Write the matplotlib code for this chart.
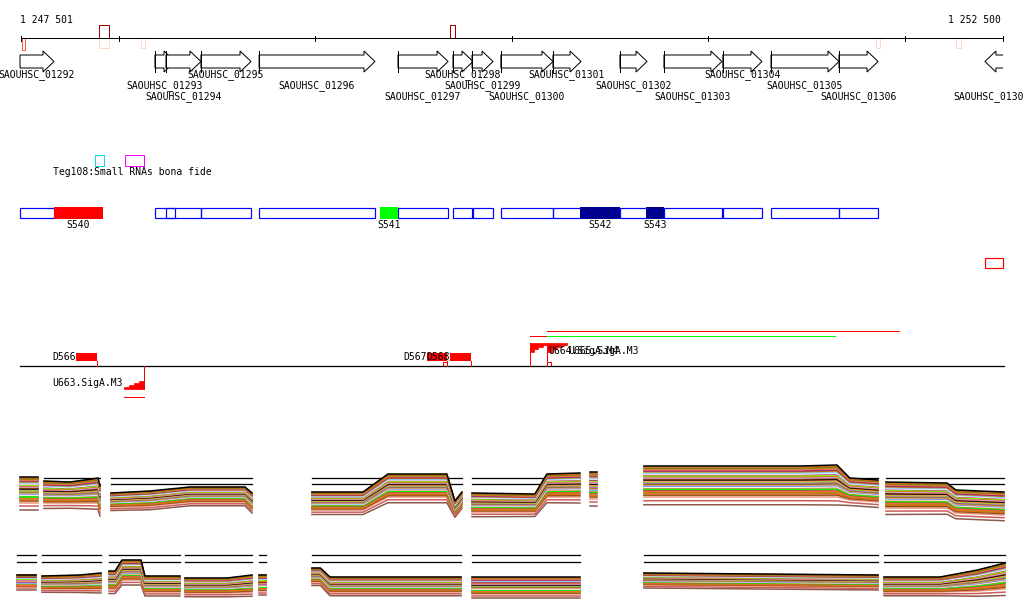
import numpy as np
import matplotlib.pyplot as plt
from matplotlib.patches import Rectangle, Polygon

# view: 1 247 501 .. 1 252 500, pixel scale of the browser picture
VIEW_START = 1247501
VIEW_END = 1252500
BP_PER_PX = (VIEW_END - VIEW_START) / 982.0
X_LEFT = VIEW_START - 21 * BP_PER_PX
X_RIGHT = X_LEFT + 1024 * BP_PER_PX
PX = 0.72  # one pixel line width in points

# ---------------------------------------------------------
# DATA
# ---------------------------------------------------------
tick_pos = [1247501, 1248000, 1249000, 1250000, 1251000, 1252000, 1252500]

gene_names = ['SAOUHSC_01292', 'SAOUHSC_01293', 'SAOUHSC_01294', 'SAOUHSC_01295',
              'SAOUHSC_01296', 'SAOUHSC_01297', 'SAOUHSC_01298', 'SAOUHSC_01299',
              'SAOUHSC_01300', 'SAOUHSC_01301', 'SAOUHSC_01302', 'SAOUHSC_01303',
              'SAOUHSC_01304', 'SAOUHSC_01305', 'SAOUHSC_01306', 'SAOUHSC_01307']
gene_start = [1247496, 1248183, 1248239, 1248417, 1248713, 1249420, 1249700, 1249797,
              1249944, 1250209, 1250550, 1250774, 1251074, 1251319, 1251665, 1252408]
gene_end = [1247669, 1248285, 1248417, 1248672, 1249303, 1249675, 1249802, 1249904,
            1250209, 1250352, 1250688, 1251069, 1251273, 1251665, 1251864, 1252560]
gene_strand = ['+'] * 15 + ['-']
label_row = [0, 1, 2, 0, 1, 2, 0, 1, 2, 0, 1, 2, 0, 1, 2, 2]

# sites on the ruler
site_start = [1247506, 1247898, 1247898, 1248112, 1249685, 1251854, 1252261]
site_end = [1247519, 1247947, 1247947, 1248132, 1249711, 1251874, 1252286]
site_color = ['#f06040', '#a00000', '#ffd8c8', '#ffd8c8', '#a00000', '#ffd8c8', '#ffd8c8']
site_above = [False, True, False, False, True, False, False]

# small RNA track
srna_start = [1247878, 1248030]
srna_end = [1247922, 1248127]
srna_color = ['#00e0e0', '#ff00ff']
srna_label = 'Teg108:Small RNAs bona fide'

# segments track
seg_names = ['S540', 'S541', 'S542', 'S543']
seg_start = [1247669, 1249328, 1250346, 1250682]
seg_end = [1247918, 1249420, 1250550, 1250774]
seg_color = ['#ff0000', '#00ff00', '#000090', '#000090']
extra_box = (1252408, 1252500)

# transcription signals
down_names = ['D566', 'D567', 'D568']
down_start = [1247781, 1249566, 1249685]
down_end = [1247886, 1249668, 1249790]
up_names = ['U663.SigA.M3', 'U664.SigA.M4', 'U665.SigA.M3']
up_pos = [1248127, 1250092, 1250178]
up_tip = [1248025, 1250178, 1250283]
up_strand = ['-', '+', '+']
term_markers = [(1249650, 1249670), (1250178, 1250199)]
rna_lines = [(1250092, 1250178, 336, '#ff0000'), (1250178, 1251645, 336, '#00ff00'),
             (1250178, 1251970, 331, '#ff0000'), (1248025, 1248127, 397, '#ff0000')]

# expression profiles: knots, top / bottom of the band
row1_blocks = [
    ([1247496, 1247588], [477, 477], [503, 503]),
    ([1247618, 1247750, 1247862, 1247893, 1247903], [481, 482, 479, 478, 486], [503, 503, 503, 503, 510]),
    ([1247959, 1248158, 1248361, 1248641, 1248677], [493, 491, 487, 487, 493], [507, 506, 502, 502, 509]),
    ([1248982, 1249242, 1249369, 1249669, 1249710, 1249746], [492, 492, 474, 474, 501, 492], [510, 510, 497, 497, 514, 505]),
    ([1249797, 1250117, 1250178, 1250346], [493, 494, 474, 473], [512, 512, 497, 497]),
    ([1250397, 1250433], [472, 472], [499, 499]),
    ([1250672, 1251467, 1251655, 1251720, 1251864], [466, 466, 465, 478, 480], [497, 497, 497, 500, 502]),
    ([1251904, 1252215, 1252260, 1252505], [482, 483, 490, 492], [508, 508, 513, 515]),
]
row2_blocks = [
    ([1247481, 1247577], [575, 575], [587, 587]),
    ([1247608, 1247801, 1247908], [576, 575, 573], [589, 589, 589]),
    ([1247949, 1247980, 1248015, 1248112, 1248132, 1248310], [571, 571, 560, 560, 576, 576], [589, 589, 580, 580, 592, 592]),
    ([1248336, 1248550, 1248677], [578, 578, 575], [593, 593, 592]),
    ([1248713, 1248748], [575, 575], [591, 591]),
    ([1248982, 1249025, 1249074, 1249741], [568, 568, 577, 577], [582, 582, 592, 592]),
    ([1249797, 1250346], [577, 577], [594, 594]),
    ([1250672, 1251864], [573, 575], [585, 587]),
    ([1251894, 1252180, 1252370, 1252510], [577, 577, 570, 563], [592, 592, 591, 589]),
]
line_frac = [0.00, 0.03, 0.07, 0.10, 0.12, 0.16, 0.19, 0.23, 0.26, 0.28, 0.32, 0.35, 0.39,
             0.42, 0.45, 0.48, 0.52, 0.55, 0.58, 0.62, 0.65, 0.68, 0.71, 0.75, 0.78, 0.82,
             0.86, 0.90, 0.94, 1.00, 1.12, 1.25]
line_color = ['#000000', '#d2691e', '#808000', '#cd853f', '#ff6347', '#a0207a', '#b8860b',
              '#87cefa', '#ffffff', '#c71585', '#7cfc00', '#d2691e', '#dda0dd', '#8b4513',
              '#000000', '#ff7f50', '#9acd32', '#ba55d3', '#808000', '#e9967a', '#6495ed',
              '#ffffff', '#cd853f', '#00ff00', '#a0522d', '#ff6347', '#b8860b', '#d2691e',
              '#8b4513', '#e9967a', '#cd5c5c', '#8b5a4a']
row1_refs = [477.7, 484.3]
row2_refs = [555, 562]

# ---------------------------------------------------------
# FIGURE
# ---------------------------------------------------------
fig = plt.figure(figsize=(10.24, 6.11), dpi=100)
ax = fig.add_axes([0, 0, 1, 1])
ax.set_xlim(X_LEFT, X_RIGHT)
ax.set_ylim(611, 0)
ax.axis('off')
font = dict(family='DejaVu Sans Mono', fontsize=7, color='black')
HEAD = 11 * BP_PER_PX

# ruler
ax.plot([VIEW_START, VIEW_END], [38, 38], color='black', lw=PX)
for t in tick_pos:
    ax.plot([t, t], [35.5, 40.5], color='black', lw=PX)
ax.text(VIEW_START - BP_PER_PX, 20, '1 247 501', ha='left', va='center', **font)
ax.text(VIEW_END - 2 * BP_PER_PX, 20, '1 252 500', ha='right', va='center', **font)
for s, e, c, up in zip(site_start, site_end, site_color, site_above):
    y0, h = (25, 13) if up else (38, 10 if c == '#ffd8c8' else 12)
    ax.add_patch(Rectangle((s, y0), e - s, h, fill=False, ec=c, lw=PX))

# genes
for name, s, e, strand, row in zip(gene_names, gene_start, gene_end, gene_strand, label_row):
    h = min(HEAD, (e - s) * 0.9)
    if strand == '+':
        pts = [(s, 55), (e - h, 55), (e - h, 51), (e, 61.5), (e - h, 72), (e - h, 68), (s, 68)]
    else:
        e2 = min(e, VIEW_END)
        pts = [(e2, 55), (s + h, 55), (s + h, 51), (s, 61.5), (s + h, 72), (s + h, 68), (e2, 68)]
    ax.add_patch(Polygon(pts, closed=(strand == '+'), fc='white', ec='black', lw=PX))
    if strand == '+' and s > VIEW_START:
        ax.plot([s, s], [51, 72], color='black', lw=PX)
    ax.text((s + e) / 2 if strand == '+' else (s + min(e, VIEW_END)) / 2 - 2 * BP_PER_PX,
            75 + 11 * row, name, ha='center', va='center', **font)

# small RNAs
for s, e, c in zip(srna_start, srna_end, srna_color):
    ax.add_patch(Rectangle((s, 155), e - s, 11, fill=False, ec=c, lw=PX))
ax.text(1247664, 172, srna_label, ha='left', va='center', **font)

# segments (blue CDS boxes + coloured segments)
for s, e in zip(gene_start[:-1], gene_end[:-1]):
    ax.add_patch(Rectangle((s, 207.5), e - s, 10.5, fill=False, ec='#0000ff', lw=PX * 1.2))
for name, s, e, c in zip(seg_names, seg_start, seg_end, seg_color):
    ax.add_patch(Rectangle((s, 207), e - s, 11.5, fc=c, ec='none'))
    ax.text((s + e) / 2, 224.5, name, ha='center', va='center', **font)
ax.add_patch(Rectangle((extra_box[0], 258), extra_box[1] - extra_box[0], 10,
                       fill=False, ec='#ff0000', lw=PX * 1.2))

# transcription signals
ax.plot([VIEW_START - BP_PER_PX, VIEW_END + BP_PER_PX], [366, 366], color='black', lw=PX * 1.3)
for name, s, e in zip(down_names, down_start, down_end):
    ax.add_patch(Rectangle((s, 353), e - s, 8, fc='#ff0000', ec='none'))
    ax.plot([e, e], [361, 366], color='#ff0000', lw=PX)
    ax.text(s, 357, name, ha='right', va='center', **font)
for s, e in term_markers:
    ax.add_patch(Rectangle((s, 361.5), e - s, 4.5, fill=False, ec='#ff0000', lw=PX))


def stair(xv, xt, yflat, yv, n=4):
    # stepped triangle: vertical side at xv, flat side at yflat
    pts = [(xv, yflat)]
    for k in range(n):
        xa = xv + (xt - xv) * k / n
        xb = xv + (xt - xv) * (k + 1) / n
        yk = yflat + (yv - yflat) * (1 - k / n)
        pts += [(xa, yk), (xb, yk)]
    pts.append((xt, yflat))
    return Polygon(pts, closed=True, fc='#ff0000', ec='#ff0000', lw=0.5)


for name, p, tip, strand in zip(up_names, up_pos, up_tip, up_strand):
    if strand == '+':
        ax.plot([p, p], [343, 366], color='#ff0000', lw=PX)
        ax.add_patch(stair(p, tip, 343, 351.5))
        ax.text(tip + BP_PER_PX, 350.5, name, ha='left', va='center', **font)
    else:
        ax.plot([p, p], [366, 389], color='#ff0000', lw=PX)
        ax.add_patch(stair(p, tip, 389, 381))
        ax.text(tip - BP_PER_PX, 383, name, ha='right', va='center', **font)
for s, e, y, c in rna_lines:
    ax.plot([s, e], [y, y], color=c, lw=PX)

# expression profiles
for blocks, refs in [(row1_blocks, row1_refs), (row2_blocks, row2_refs)]:
    for xs, top, bot in blocks:
        xs = np.array(xs, dtype=float)
        top = np.array(top, dtype=float)
        bot = np.array(bot, dtype=float)
        for r in refs:
            ax.plot([xs[0], xs[-1]], [r, r], color='black', lw=PX * 1.3)
        for f, c in zip(line_frac[::-1], line_color[::-1]):
            ax.plot(xs, top + f * (bot - top), color=c, lw=1.1)

fig.savefig('out.png', dpi=100, facecolor='white')
